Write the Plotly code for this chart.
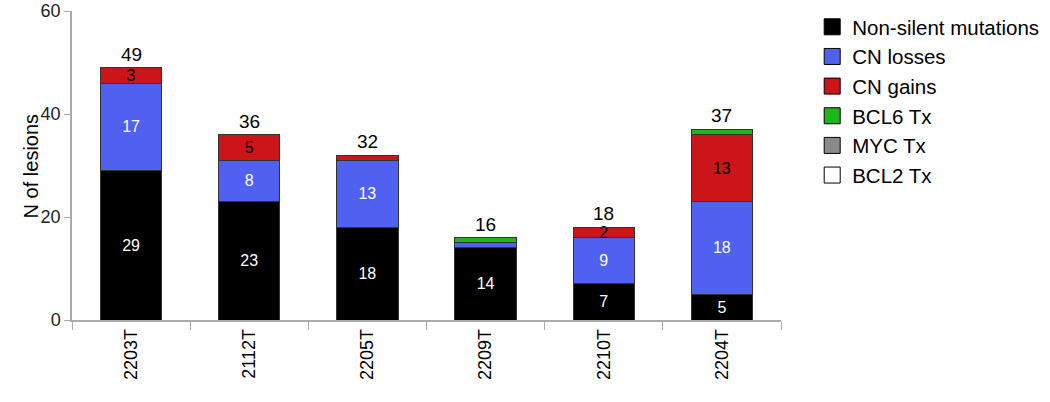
import plotly.graph_objects as go

samples = ["2203T", "2112T", "2205T", "2209T", "2210T", "2204T"]
series_names = ["Non-silent mutations", "CN losses", "CN gains", "BCL6 Tx", "MYC Tx", "BCL2 Tx"]
non_silent = [29, 23, 18, 14, 7, 5]
cn_losses = [17, 8, 13, 1, 9, 18]
cn_gains = [3, 5, 1, 0, 2, 13]
bcl6_tx = [0, 0, 0, 1, 0, 1]
myc_tx = [0, 0, 0, 0, 0, 0]
bcl2_tx = [0, 0, 0, 0, 0, 0]
totals = [49, 36, 32, 16, 18, 37]

series = [non_silent, cn_losses, cn_gains, bcl6_tx, myc_tx, bcl2_tx]
colors = ["#000000", "#5060f0", "#cc1518", "#1fb51f", "#8a8a8a", "#ffffff"]
text_colors = ["#ffffff", "#ffffff", "#000000", "#000000", "#000000", "#000000"]
FONT = "Liberation Sans, Arial, sans-serif"

fig = go.Figure()
for name, vals, col, tcol in zip(series_names, series, colors, text_colors):
    fig.add_trace(go.Bar(
        x=samples, y=vals, name=name,
        marker=dict(color=col, line=dict(color="#333333", width=1)),
        text=[str(v) if v >= 2 else "" for v in vals],
        textposition="inside", insidetextanchor="middle", textangle=0,
        constraintext="none",
        textfont=dict(color=tcol, size=16, family=FONT),
        width=0.52, showlegend=False, hoverinfo="skip",
    ))
    fig.add_trace(go.Scatter(
        x=[None], y=[None], mode="markers", name=name, legendgroup=name,
        marker=dict(symbol="square", size=16, color=col, line=dict(color="#000000", width=1)),
    ))

for s, t in zip(samples, totals):
    fig.add_annotation(x=s, y=t, text=str(t), showarrow=False, yanchor="bottom", yshift=1,
                       font=dict(size=19, color="#000000", family=FONT))

fig.add_annotation(xref="paper", yref="paper", x=-0.058, y=0.5, text="N of lesions", textangle=-90,
                   showarrow=False, xanchor="center", yanchor="middle",
                   font=dict(size=20, color="#000000", family=FONT))

fig.update_layout(
    barmode="stack",
    width=1050, height=402,
    margin=dict(l=72, r=269, t=11, b=82, autoexpand=False),
    paper_bgcolor="white", plot_bgcolor="white",
    font=dict(family=FONT, color="#000000"),
    legend=dict(x=1.044, y=1.013, xanchor="left", yanchor="top", traceorder="normal",
                font=dict(size=20.5, color="#000000"), tracegroupgap=11, bgcolor="rgba(0,0,0,0)"),
    xaxis=dict(showline=True, linecolor="#aaaaaa", linewidth=1.5, ticks="outside", tickson="boundaries",
               tickcolor="#aaaaaa", ticklen=8, tickangle=-90, tickfont=dict(size=18, color="#000000"),
               showgrid=False, automargin=False, ticklabeloverflow="allow"),
    yaxis=dict(range=[0, 60], tickvals=[0, 20, 40, 60], showline=True, linecolor="#aaaaaa", linewidth=1.5,
               ticks="outside", tickcolor="#aaaaaa", ticklen=6, tickfont=dict(size=18, color="#222222"),
               showgrid=False, zeroline=False, automargin=False, ticklabeloverflow="allow"),
)

fig.write_html("out.html", config={"displayModeBar": False},
               post_script="document.body.style.margin='0';document.body.style.overflow='hidden';")
